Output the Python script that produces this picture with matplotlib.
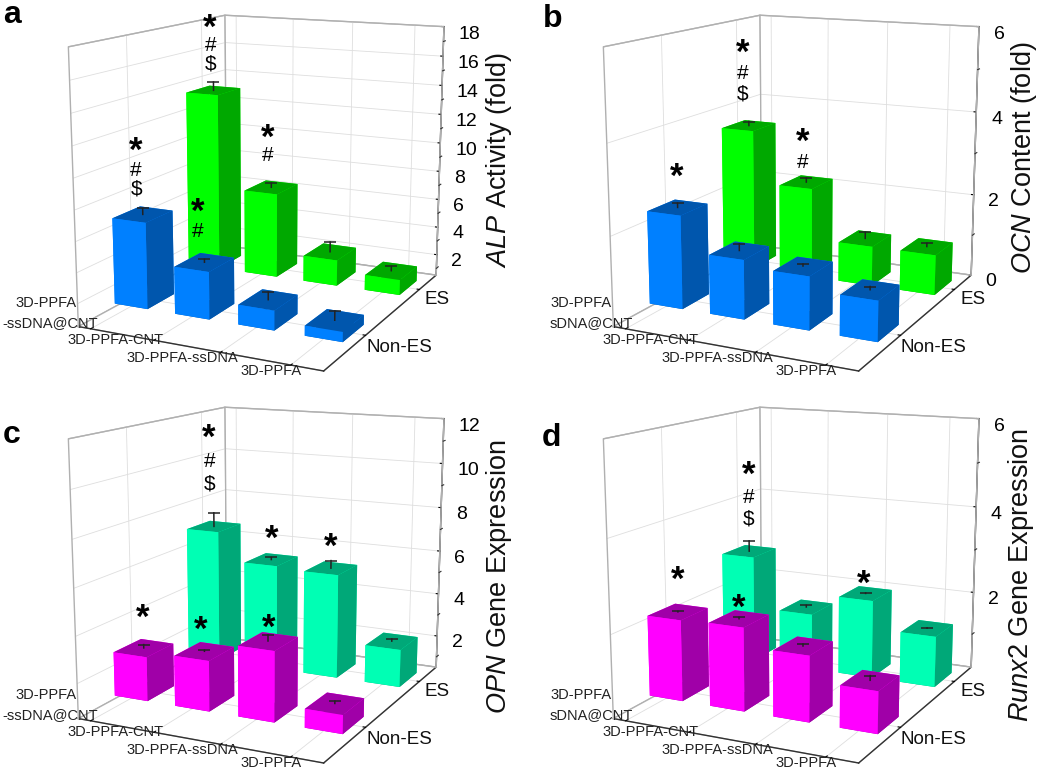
#!/usr/bin/env python3
import matplotlib
matplotlib.use("Agg")
import matplotlib.pyplot as plt
import numpy as np

W, H = 1050, 773

plt.rcParams['font.family'] = ['Liberation Sans', 'DejaVu Sans']
plt.rcParams['mathtext.fontset'] = 'custom'
plt.rcParams['mathtext.rm'] = 'Liberation Sans'
plt.rcParams['mathtext.it'] = 'Liberation Sans:italic'
plt.rcParams['grid.color'] = '#dedede'
plt.rcParams['grid.linewidth'] = 0.6
plt.rcParams['axes.linewidth'] = 1.0

# values, front row is Non-ES and back row is ES
alp_non = [6.3, 3.65, 1.8, 1.15]
alp_es = [13.05, 6.45, 2.3, 1.55]
alp_err = [[0.4, 0.2, 0.5, 0.6], [0.6, 0.3, 0.7, 0.3]]
ocn_non = [2.15, 1.35, 1.2, 0.9]
ocn_es = [3.43, 2.17, 0.95, 0.95]
ocn_err = [[0.1, 0.15, 0.05, 0.07], [0.1, 0.1, 0.15, 0.08]]
opn_non = [2.45, 2.7, 3.53, 1.3]
opn_es = [6.65, 5.35, 5.25, 2.2]
opn_err = [[0.15, 0.05, 0.25, 0.1], [0.65, 0.1, 0.35, 0.1]]
runx_non = [2.0, 2.03, 1.63, 1.1]
runx_es = [2.7, 1.5, 2.0, 1.36]
runx_err = [[0.01, 0.03, 0.03, 0.1], [0.25, 0.04, 0.01, 0.01]]

panels = [
    dict(tag='a', non=alp_non, es=alp_es, err=alp_err, zmin=0.5, zmax=18,
         major=[2, 4, 6, 8, 10, 12, 14, 16, 18], minor=[1, 3, 5, 7, 9, 11, 13, 15, 17],
         ylabel=r'$\mathit{ALP}$ Activity (fold)', front='#0080ff', dark='#0056ad',
         back='#00ff00', backdark='#00a800', off=(0, 0), tagxy=(3, 23), labely=(499, 160),
         first='-ssDNA@CNT', marks=[(-0.1, 0, 10.45, '*#$'), (-0.05, 1, 17.45, '*#$'), (0.9, 0, 6.9, '*#'), (0.93, 1, 9.95, '*#')], dz=1.25),
    dict(tag='b', non=ocn_non, es=ocn_es, err=ocn_err, zmin=0, zmax=6,
         major=[0, 2, 4, 6], minor=[1, 3, 5],
         ylabel=r'$\mathit{OCN}$ Content (fold)', front='#0080ff', dark='#0056ad',
         back='#00ff00', backdark='#00a800', off=(535, 0), tagxy=(543, 27), labely=(1024, 158),
         first='sDNA@CNT', marks=[(0, 0, 2.84, '*'), (-0.1, 1, 5.2, '*#$'), (0.93, 1, 3.15, '*#')], dz=0.5),
    dict(tag='c', non=opn_non, es=opn_es, err=opn_err, zmin=0.5, zmax=12,
         major=[2, 4, 6, 8, 10, 12], minor=[1, 3, 5, 7, 9, 11],
         ylabel=r'$\mathit{OPN}$ Gene Expression', front='#ff00ff', dark='#a000a8',
         back='#00ffb4', backdark='#00a878', off=(0, 392), tagxy=(3, 443), labely=(499, 577),
         first='-ssDNA@CNT', marks=[(0, 0, 3.8, '*'), (0.95, 0, 3.6, '*'), (2, 0, 4.1, '*'), (-0.07, 1, 10.8, '*#$'), (1, 1, 6.3, '*'), (2, 1, 6.2, '*')], dz=1.08),
    dict(tag='d', non=runx_non, es=runx_es, err=runx_err, zmin=0.2, zmax=6,
         major=[2, 4, 6], minor=[1, 3, 5],
         ylabel=r'$\mathit{Runx2}$ Gene Expression', front='#ff00ff', dark='#a000a8',
         back='#00ffb4', backdark='#00a878', off=(535, 392), tagxy=(542, 446), labely=(1021, 575),
         first='sDNA@CNT', marks=[(0, 0, 2.7, '*'), (1, 0, 2.25, '*'), (1.97, 1, 2.2, '*'), (0, 1, 4.53, '*#$')], dz=0.53),
]
es_labels = ['Non-ES', 'ES']

fig = plt.figure(figsize=(W / 100, H / 100), dpi=100)


def px(x, y, s, **kw):
    return fig.text(x / W, 1 - y / H, s, **kw)


box = 234
x0, x1 = -0.2, 3.45
y0, y1 = -0.65, 1.36
for p in panels:
    ox, oy = p['off']
    z0, z1 = p['zmin'], p['zmax']
    cx, cy = 265 + ox, 174 + oy
    ax = fig.add_axes([(cx - box / 2) / W, 1 - (cy + box / 2) / H, box / W, box / H],
                      projection='3d', computed_zorder=False)
    ax.set_facecolor('none')
    ax.set_proj_type('persp', focal_length=1)
    ax.view_init(elev=13, azim=-64)
    ax.set_box_aspect((0.9, 1.07, 0.945), zoom=2)

    # wall outline, the panes get clipped by the small axes box
    ax.plot([x0, x0, x0, x0, x1], [y0, y0, y1, y1, y1], [z0, z1, z1, z0, z0],
            color='#b0b0b0', lw=1, zorder=0, clip_on=False)
    ax.plot([x0, x1, x1], [y1, y1, y1], [z1, z1, z0], color='#b0b0b0', lw=1, zorder=0,
            clip_on=False)
    ax.plot([x0, x0], [y0, y1], [z0, z0], color='#b0b0b0', lw=1, zorder=0, clip_on=False)

    xs = np.arange(4)
    dx, dy = 0.55, 0.345
    zorder = 1
    for j, (vals, fc, dc) in enumerate([(p['es'], p['back'], p['backdark']),
                                        (p['non'], p['front'], p['dark'])]):
        row = 1 - j
        for i in xs:
            # faces: bottom, top, front, back, left, right
            cols = [dc, dc, fc, fc, fc, dc]
            bar = ax.bar3d(i - dx / 2, row - dy / 2, z0, dx, dy, vals[i] - z0,
                           color=cols, shade=False, zorder=zorder)
            bar.set_clip_on(False)
            zorder += 1
            top, e = vals[i], p['err'][row][i]
            ax.plot([i, i], [row, row], [top, top + e], color='#222222', lw=1.1,
                    zorder=zorder, clip_on=False)
            ax.plot([i], [row], [top + e], marker='_', ms=8, mew=1.1, color='#222222',
                    zorder=zorder, clip_on=False)
            zorder += 1

    for i, row, z, syms in p['marks']:
        for k, s in enumerate(syms):
            star = s == '*'
            ax.text(i, row, z - k * p['dz'], s, fontsize=25 if star else 15, ha='center',
                    va='center', color='black', zorder=50,
                    fontweight='bold' if star else 'normal')

    ax.set_xlim(x0, x1)
    ax.set_ylim(y0, y1)
    ax.set_zlim(z0, z1)
    ax.set_xticks(xs)
    ax.set_xticklabels([])
    ax.set_yticks([0, 1])
    ax.set_yticklabels([])
    ax.set_zticks(p['major'])
    ax.set_zticklabels([str(m) for m in p['major']], fontsize=14, ha='left')
    ax.tick_params(axis='z', pad=-4)
    for axis in (ax.xaxis, ax.yaxis, ax.zaxis):
        axis.set_pane_color((1, 1, 1, 1))
        axis.pane.set_edgecolor('#b5b5b5')
        axis.pane.set_linewidth(0.9)
        axis.line.set_color('#333333')
        axis._axinfo['tick']['inward_factor'] = 0
        axis._axinfo['tick']['outward_factor'] = 0.12
        axis._axinfo['tick']['color'] = '#333333'

    for z in p['minor']:
        ax.plot([x1, x1], [y1, y1 + 0.04], [z, z], color='#333333', lw=0.8, zorder=60,
                clip_on=False)

    # category labels, placed by hand like the original
    lab = dict(fontsize=10.5, color='#222222', va='center')
    px(77 + ox, 303 + oy, '3D-PPFA', ha='right', **lab)
    px(98 + ox, 323 + oy, p['first'], ha='right', **lab)
    px(116 + ox, 340 + oy, '3D-PPFA-CNT', ha='center', **lab)
    px(182 + ox, 358 + oy, '3D-PPFA-ssDNA', ha='center', **lab)
    px(271 + ox, 371 + oy, '3D-PPFA', ha='center', **lab)
    px(366 + ox, 348 + oy, es_labels[0], ha='left', va='center', fontsize=13.5, color='#111111')
    px(425 + ox, 299 + oy, es_labels[1], ha='left', va='center', fontsize=13.5, color='#111111')

    px(p['labely'][0], p['labely'][1], p['ylabel'], rotation=90, fontsize=19.5,
       ha='center', va='center', color='#111111')
    px(p['tagxy'][0], p['tagxy'][1], p['tag'], fontsize=23, fontweight='bold',
       ha='left', va='baseline', color='black')

fig.savefig('out.png', dpi=100)
